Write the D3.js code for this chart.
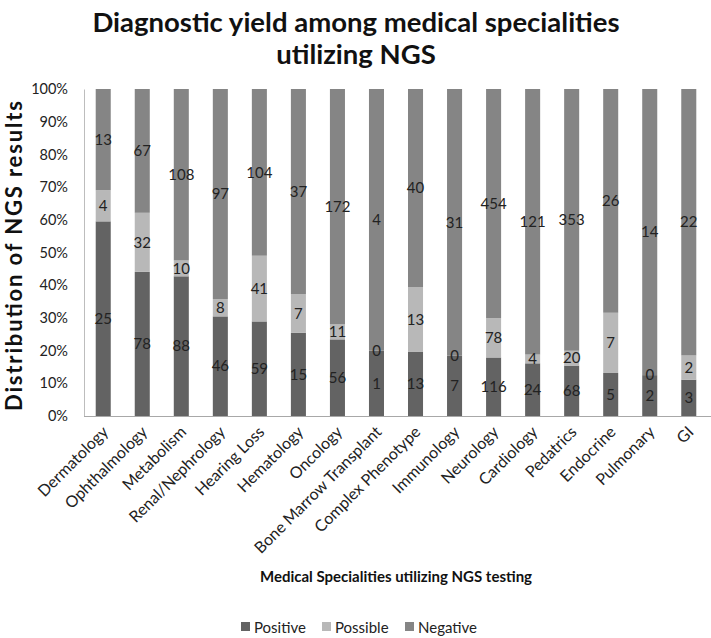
<!DOCTYPE html>
<html><head><meta charset="utf-8">
<script src="https://cdn.jsdelivr.net/npm/d3@7"></script>
<style>body{margin:0;background:#fff}svg{display:block}text{font-family:Lato,"Open Sans",sans-serif}</style>
</head><body>
<svg id="c" width="711" height="638"></svg>
<script>
const categories = ["Dermatology","Ophthalmology","Metabolism","Renal/Nephrology","Hearing Loss","Hematology","Oncology","Bone Marrow Transplant","Complex Phenotype","Immunology","Neurology","Cardiology","Pedatrics","Endocrine","Pulmonary","GI"];
const positive = [25,78,88,46,59,15,56,1,13,7,116,24,68,5,2,3];
const possible = [4,32,10,8,41,7,11,0,13,0,78,4,20,7,0,2];
const negative = [13,67,108,97,104,37,172,4,40,31,454,121,353,26,14,22];
const seriesNames = ["Positive","Possible","Negative"];
const colors = ["#636363","#b8b8b8","#858585"];
const yTicks = [0,0.1,0.2,0.3,0.4,0.5,0.6,0.7,0.8,0.9,1];

const svg = d3.select("#c");
const m = {l:84, r:3, t:89, b:222};
const W = 711, H = 638;
const x = d3.scaleBand().domain(categories).range([m.l, W-m.r]).paddingInner(0.615).paddingOuter(0.3);
const y = d3.scaleLinear().domain([0,1]).range([H-m.b, m.t]);

const rows = categories.map((c,i)=>({cat:c, Positive:positive[i], Possible:possible[i], Negative:negative[i], total:positive[i]+possible[i]+negative[i]}));
const stack = d3.stack().keys(seriesNames).value((d,k)=>d[k]/d.total);
const layers = stack(rows);

// title
svg.append("text").attr("x",356).attr("y",32).attr("text-anchor","middle").attr("font-size",27.5).attr("font-weight","bold").attr("fill","#111").text("Diagnostic yield among medical specialities");
svg.append("text").attr("x",356).attr("y",64).attr("text-anchor","middle").attr("font-size",27.5).attr("font-weight","bold").attr("fill","#111").text("utilizing NGS");

// bars
layers.forEach((L,si)=>{
  svg.append("g").selectAll("rect").data(L).join("rect")
    .attr("x",d=>x(d.data.cat)).attr("width",x.bandwidth())
    .attr("y",d=>y(d[1])).attr("height",d=>y(d[0])-y(d[1]))
    .attr("fill",colors[si]);
});
// labels
layers.forEach((L,si)=>{
  svg.append("g").selectAll("text").data(L).join("text")
    .attr("x",d=>x(d.data.cat)+x.bandwidth()/2)
    .attr("y",d=>(y(d[0])+y(d[1]))/2)
    .attr("dy","0.35em").attr("text-anchor","middle")
    .attr("font-size",15).attr("fill","#222")
    .text(d=>d.data[L.key]);
});

// y axis
const ya = svg.append("g").attr("transform",`translate(${m.l},0)`)
  .call(d3.axisLeft(y).tickValues(yTicks).tickFormat(d3.format(".0%")).tickSize(0).tickPadding(16));
ya.select(".domain").attr("stroke","#bdbdbd");
ya.selectAll("text").attr("font-size",14.5).attr("fill","#222").style("font-family","Lato, sans-serif");

// x axis
const xa = svg.append("g").attr("transform",`translate(0,${H-m.b})`)
  .call(d3.axisBottom(x).tickSize(0).tickPadding(0));
xa.select(".domain").attr("stroke","#a8a8a8").attr("d",`M${m.l},0.5H${W}`);
xa.selectAll("text").attr("font-size",16).attr("fill","#222").style("font-family","Lato, sans-serif")
  .attr("text-anchor","end").attr("dy",0).attr("y",0)
  .attr("transform","translate(6,17) rotate(-45)");

// axis titles
svg.append("text").attr("transform","translate(22,256) rotate(-90)").attr("text-anchor","middle")
  .attr("font-size",22).attr("font-weight","bold").attr("fill","#111")
  .attr("textLength",310).attr("lengthAdjust","spacing").text("Distribution of NGS results");
svg.append("text").attr("x",396).attr("y",582).attr("text-anchor","middle")
  .attr("font-size",15).attr("font-weight","bold").attr("fill","#111").text("Medical Specialities utilizing NGS testing");

// legend
const lx = [241, 322, 405];
const lg = svg.append("g");
seriesNames.forEach((s,i)=>{
  lg.append("rect").attr("x",lx[i]).attr("y",622).attr("width",9).attr("height",9).attr("fill",colors[i]);
  lg.append("text").attr("x",lx[i]+13).attr("y",633).attr("font-size",15).attr("fill","#222").text(s);
});
</script>
</body></html>
